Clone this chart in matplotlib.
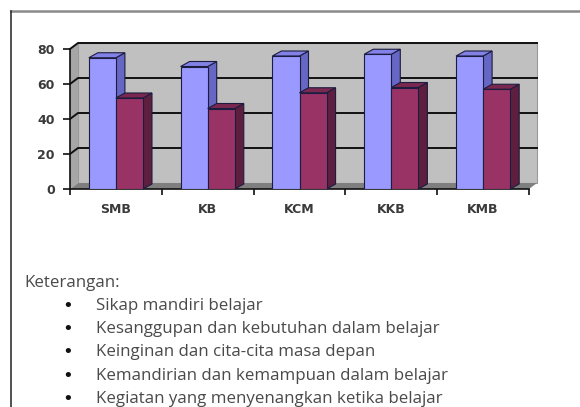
import matplotlib
matplotlib.use("Agg")
import matplotlib.pyplot as plt
from matplotlib.patches import Polygon, Rectangle
from matplotlib.lines import Line2D
import numpy as np

categories = ["SMB", "KB", "KCM", "KKB", "KMB"]
series_a = [75, 70, 76, 77, 76]
series_b = [52, 46, 55, 58, 57]
y_ticks = [0, 20, 40, 60, 80]
notes_title = "Keterangan:"
notes = [
    "Sikap mandiri belajar",
    "Kesanggupan dan kebutuhan dalam belajar",
    "Keinginan dan cita-cita masa depan",
    "Kemandirian dan kemampuan dalam belajar",
    "Kegiatan yang menyenangkan ketika belajar",
]

W, H = 580, 407
fig = plt.figure(figsize=(W / 100, H / 100), dpi=100)

# outer frame (top and left only)
fig.add_artist(Line2D([11 / W, 1], [1 - 11 / H] * 2, color="#8a8a8a", lw=1.8))
fig.add_artist(Line2D([11 / W] * 2, [0, 1 - 11 / H], color="#222222", lw=1.1))

# front plane of the chart
x0, x1, yb, yt = 70, 529, 189, 49
ax = fig.add_axes([x0 / W, 1 - yb / H, (x1 - x0) / W, (yb - yt) / H])
ax.set_xlim(-0.5, len(categories) - 0.5)
ax.set_ylim(0, 80)
ax.patch.set_visible(False)

ux = (x1 - x0) / len(categories)   # px per x unit
uy = (yb - yt) / 80.0              # px per y unit
wdx, wdy = 8 / ux, 6 / uy          # depth of walls
bdx, bdy = 9 / ux, 5 / uy          # depth of bars

xl, xr = -0.5, len(categories) - 0.5
ax.add_patch(Rectangle((xl + wdx, wdy), xr - xl, 80, fc="#c0c0c0", ec="#9a9a9a",
                       lw=0.8, zorder=0, clip_on=False))
ax.add_patch(Polygon([(xl, 0), (xl + wdx, wdy), (xl + wdx, 80 + wdy), (xl, 80)],
                     fc="#a6a6a6", ec="none", zorder=0.5, clip_on=False))
ax.add_patch(Polygon([(xl, 0), (xr, 0), (xr + wdx, wdy), (xl + wdx, wdy)],
                     fc="#7f7f7f", ec="none", zorder=0.6, clip_on=False))
for t in y_ticks[1:]:
    ax.plot([xl, xl + wdx, xr + wdx], [t, t + wdy, t + wdy], color="#111111",
            lw=1.4, zorder=1, clip_on=False)

x = np.arange(len(categories))
bw = 0.295
faces = [("#9999ff", "#6666c4", "#8282e6"), ("#993366", "#5e1f3e", "#7a2850")]
for k, (vals, off) in enumerate([(series_a, -bw / 2), (series_b, bw / 2)]):
    front, side, top = faces[k]
    bars = ax.bar(x + off, vals, bw, color=front, edgecolor="#1c1c40", lw=0.8,
                  zorder=3 + k + 0.1)
    for b in bars:
        l, w, h = b.get_x(), b.get_width(), b.get_height()
        ax.add_patch(Polygon([(l + w, 0), (l + w + bdx, bdy), (l + w + bdx, h + bdy), (l + w, h)],
                             fc=side, ec="#1c1c40", lw=0.8, zorder=3 + k, clip_on=False))
        ax.add_patch(Polygon([(l, h), (l + bdx, h + bdy), (l + w + bdx, h + bdy), (l + w, h)],
                             fc=top, ec="#1c1c40", lw=0.8, zorder=3 + k, clip_on=False))

for s in ["top", "right"]:
    ax.spines[s].set_visible(False)
for s in ["left", "bottom"]:
    ax.spines[s].set_color("#111111")
    ax.spines[s].set_linewidth(1.2)
    ax.spines[s].set_zorder(2)

ax.set_yticks(y_ticks)
ax.set_yticklabels([str(t) for t in y_ticks], fontsize=9, fontweight="bold", color="#3a3a3a")
ax.tick_params(axis="y", length=5, width=1.2, color="#111111", pad=6)
ax.set_xticks(x)
ax.set_xticklabels(categories, fontsize=9, fontweight="bold", color="#3a3a3a")
ax.set_xticks(np.arange(len(categories) + 1) - 0.5, minor=True)
ax.tick_params(axis="x", which="major", length=0, pad=10)
ax.tick_params(axis="x", which="minor", length=4, width=1.2, color="#111111")

# legend notes
fam = ["Open Sans", "DejaVu Sans"]
fig.text(24 / W, 1 - 283 / H, notes_title, fontsize=12.2, family=fam, color="#4a4a4a", va="center")
for i, n in enumerate(notes):
    yy = 1 - (306 + 23.2 * i) / H
    fig.text(68 / W, yy, "\u2022", fontsize=13, color="#111111", va="center", ha="center")
    fig.text(96 / W, yy, n, fontsize=12.2, family=fam, color="#4a4a4a", va="center")

fig.savefig("out.png", dpi=100)
